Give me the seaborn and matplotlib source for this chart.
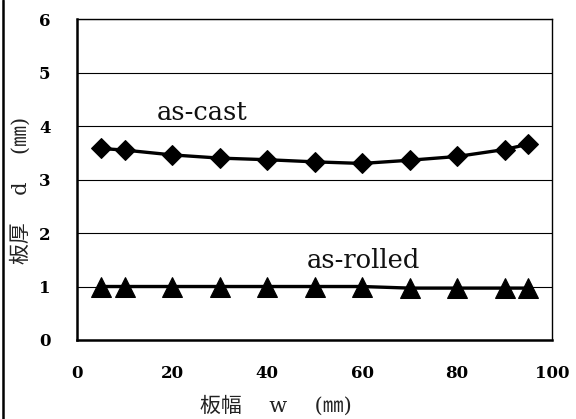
import matplotlib
matplotlib.use("Agg")
import matplotlib.pyplot as plt
from matplotlib.lines import Line2D
import seaborn as sns
import pandas as pd

width_mm = [5, 10, 20, 30, 40, 50, 60, 70, 80, 90, 95]
as_cast = [3.58, 3.55, 3.46, 3.40, 3.37, 3.33, 3.30, 3.36, 3.43, 3.56, 3.66]
as_rolled = [1.0, 1.0, 1.0, 1.0, 1.0, 1.0, 1.0, 0.97, 0.97, 0.97, 0.97]
x_ticks = [0, 20, 40, 60, 80, 100]
y_ticks = [0, 1, 2, 3, 4, 5, 6]

sns.set_theme(style="white")
plt.rcParams['font.family'] = ['DejaVu Serif', 'Noto Sans CJK JP']

fig = plt.figure(figsize=(5.76, 4.19), dpi=100)
ax = fig.add_axes([77/576, 1-340/419, (552-77)/576, (340-19)/419])

df = pd.DataFrame({"w": width_mm, "cast": as_cast, "rolled": as_rolled})
sns.lineplot(data=df, x="w", y="cast", ax=ax, color="black", lw=2.4,
             marker="D", markersize=10, markeredgecolor="black", markerfacecolor="black")
sns.lineplot(data=df, x="w", y="rolled", ax=ax, color="black", lw=2.4,
             marker="^", markersize=14, markeredgecolor="black", markerfacecolor="black")

ax.set_xlim(0, 100)
ax.set_ylim(0, 6)
ax.set_xticks(x_ticks)
ax.set_yticks(y_ticks)
ax.set_xticklabels([str(t) for t in x_ticks], fontweight="bold", fontsize=12)
ax.set_yticklabels([str(t) for t in y_ticks], fontweight="bold", fontsize=12)
ax.tick_params(axis="x", direction="in", length=4, width=1, pad=18, colors="black")
ax.tick_params(axis="y", direction="in", length=0, width=1, pad=19, colors="black")
ax.yaxis.grid(True, color="black", lw=0.8)
ax.xaxis.grid(False)
for s in ["left", "bottom"]:
    ax.spines[s].set_linewidth(1.8)
    ax.spines[s].set_color("black")
for s in ["right", "top"]:
    ax.spines[s].set_linewidth(1.0)
    ax.spines[s].set_color("black")

ax.set_xlabel("板幅　 w　 (㎜)", fontsize=15, color="#222222")
ax.set_ylabel("板厚　 d　 (㎜)", fontsize=15, color="#222222")
ax.xaxis.set_label_coords((276-77)/475, -(395-340)/321)
ax.yaxis.set_label_coords(-(77-31)/475, (340-190)/321)

ax.text(26.3, 4.11, "as-cast", fontsize=18.5, ha="center", va="baseline", color="#111111")
ax.text(60.4, 1.35, "as-rolled", fontsize=18.5, ha="center", va="baseline", color="#111111")

fig.add_artist(Line2D([2.5/576, 2.5/576], [0, 1], color="black", lw=1.8))

fig.savefig("out.png", dpi=100)
